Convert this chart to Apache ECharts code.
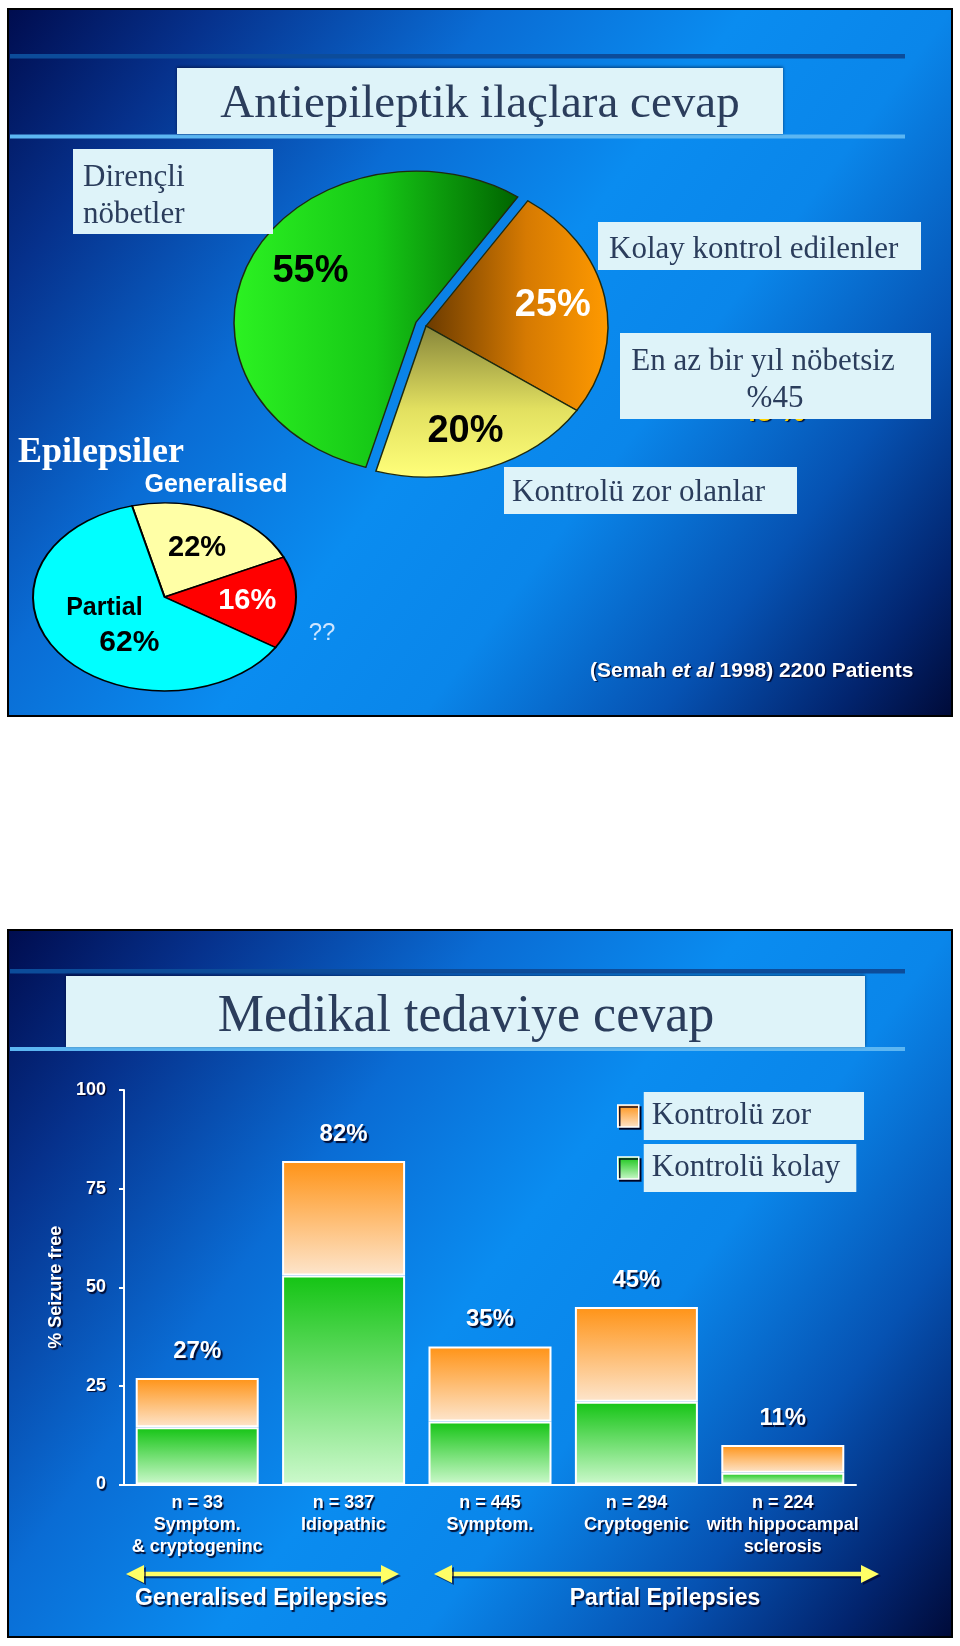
<!DOCTYPE html>
<html><head><meta charset="utf-8">
<style>html,body{margin:0;padding:0;background:#fff;}#c{width:960px;height:1646px;}</style>
<script src="https://cdn.jsdelivr.net/npm/echarts@6/dist/echarts.min.js"></script>
</head><body><div id="c"></div>
<script>
// ---------------- DATA ----------------
const responseNames = ['Dirençli nöbetler', 'Kolay kontrol edilenler', 'Kontrolü zor olanlar'];
const responseValues = [55, 25, 20];
const epilepsyNames = ['Generalised', '??', 'Partial'];
const epilepsyValues = [22, 16, 62];
const categoryN = [33, 337, 445, 294, 224];
const categoryNames = ['Symptom.\n& cryptogeninc', 'Idiopathic', 'Symptom.', 'Cryptogenic', 'with hippocampal\nsclerosis'];
const easyControl = [14.5, 53, 16, 21, 3];   // Kontrolü kolay
const hardControl = [12.5, 29, 19, 24, 7];   // Kontrolü zor
const totalLabels = ['27%', '82%', '35%', '45%', '11%'];
const yTickValues = [0, 25, 50, 75, 100];
const categories = categoryN.map((n, i) => 'n = ' + n + '\n' + categoryNames[i]);

// ---------------- STYLE ----------------
const SANS = '"Liberation Sans", Arial, sans-serif';
const SERIF = '"Liberation Serif", "Times New Roman", serif';
const BOX = '#def3f9';
const INK = '#2b3d5c';
const G = echarts.graphic;
const shadowTxt = {textShadowColor: 'rgba(0,0,30,0.85)', textShadowOffsetX: 1.5, textShadowOffsetY: 1.5, textShadowBlur: 1};

function txt(x, y, text, o) {
  o = o || {};
  const a = o.align || 'center';
  return {type: 'text', x: x, y: y, z: o.z == null ? 20 : o.z, silent: true,
    style: Object.assign({text: text, fill: o.fill || '#fff', fontSize: o.size || 20,
      fontFamily: o.family || SANS, fontWeight: o.weight || 'normal', fontStyle: o.style || 'normal',
      align: a, textAlign: a, verticalAlign: 'middle', textVerticalAlign: 'middle'}, o.extra || {})};
}
function rect(x, y, w, h, fill, o) {
  o = o || {};
  return {type: 'rect', z: o.z == null ? 10 : o.z, silent: true, shape: {x: x, y: y, width: w, height: h},
    style: Object.assign({fill: fill}, o.style || {})};
}
function slideBg() {
  return new G.LinearGradient(0, 0, 1, 1, [
    {offset: 0, color: '#000c4e'}, {offset: 0.14, color: '#06318c'},
    {offset: 0.33, color: '#0a6cd4'}, {offset: 0.5, color: '#0a8cf0'},
    {offset: 0.64, color: '#0a86ea'}, {offset: 0.8, color: '#0652b2'},
    {offset: 0.92, color: '#02246e'}, {offset: 1, color: '#000a38'}]);
}
function arrow(x1, x2, y) {
  const col = '#ffff66', sh = {shadowColor: 'rgba(0,0,40,0.6)', shadowOffsetX: 2, shadowOffsetY: 2};
  return [
    {type: 'line', z: 12, silent: true, shape: {x1: x1 + 12, y1: y, x2: x2 - 12, y2: y}, style: Object.assign({stroke: col, lineWidth: 4.5}, sh)},
    {type: 'polygon', z: 12, silent: true, shape: {points: [[x1, y], [x1 + 18, y - 9], [x1 + 18, y + 9]]}, style: Object.assign({fill: col}, sh)},
    {type: 'polygon', z: 12, silent: true, shape: {points: [[x2, y], [x2 - 18, y - 9], [x2 - 18, y + 9]]}, style: Object.assign({fill: col}, sh)}
  ];
}

// pie drawn as elliptical (tilted) sectors through a custom series
function pieRenderer(values, cfg) {
  const total = values.reduce((a, b) => a + b, 0);
  return function (params, api) {
    const i = params.dataIndex;
    let before = 0;
    for (let k = 0; k < i; k++) before += values[k];
    const v = api.value(0);
    const a0 = cfg.start + before / total * Math.PI * 2;
    const a1 = a0 + v / total * Math.PI * 2;
    const mid = (a0 + a1) / 2;
    const off = cfg.explode[i] || 0;
    const cx = cfg.cx + Math.cos(mid) * off;
    const cy = cfg.cy + Math.sin(mid) * off * cfg.ratio;
    const lr = cfg.r * cfg.labelR[i];
    const lx = cx + Math.cos(mid) * lr + (cfg.labelDx[i] || 0);
    const ly = cy + Math.sin(mid) * lr * cfg.ratio + (cfg.labelDy[i] || 0);
    const lab = cfg.label(i, v);
    return {type: 'group', children: [
      {type: 'sector', x: cx, y: cy, scaleY: cfg.ratio,
        shape: {cx: 0, cy: 0, r0: 0, r: cfg.r, startAngle: a0, endAngle: a1, clockwise: true},
        style: {fill: cfg.fills[i], stroke: cfg.stroke, lineWidth: cfg.lineWidth, strokeNoScale: true}},
      {type: 'text', x: lx, y: ly, style: Object.assign({text: lab.text, fill: cfg.labelColors[i],
        fontFamily: SANS, fontWeight: 'bold', fontSize: cfg.labelSize, align: 'center', textAlign: 'center',
        verticalAlign: 'middle', textVerticalAlign: 'middle'}, lab.rich ? {rich: lab.rich} : {})}
    ]};
  };
}
const deg = Math.PI / 180;
const bigPie = {
  cx: 426, cy: 326, r: 182, ratio: 0.83, start: 106 * deg, explode: [11, 0, 0],
  stroke: '#1e2a10', lineWidth: 1.5,
  fills: [
    new G.LinearGradient(0, 0, 1, 0, [{offset: 0, color: '#2cf222'}, {offset: 0.5, color: '#16c816'}, {offset: 1, color: '#006300'}]),
    new G.LinearGradient(0, 0, 1, 0, [{offset: 0, color: '#6a3a00'}, {offset: 0.55, color: '#d67a02'}, {offset: 1, color: '#ff9a00'}]),
    new G.LinearGradient(0, 0, 0, 1, [{offset: 0, color: '#86853a'}, {offset: 0.55, color: '#e2e060'}, {offset: 1, color: '#ffff7a'}])
  ],
  labelR: [0.64, 0.71, 0.73], labelDx: [0, 0, -6], labelDy: [-10, 0, 2], labelColors: ['#000', '#fff', '#000'], labelSize: 38,
  label: (i, v) => ({text: v + '%'})
};
const smallPie = {
  cx: 164.5, cy: 597, r: 131.5, ratio: 0.715, start: -104.3 * deg, explode: [0, 0, 0],
  stroke: '#000', lineWidth: 2,
  fills: ['#ffffa6', '#ff0000', '#00ffff'],
  labelR: [0.58, 0.63, 0.48], labelDx: [0, 0, -9], labelDy: [0, 0, 2], labelColors: ['#000', '#fff', '#000'], labelSize: 29,
  label: (i, v) => i === 2
    ? {text: '{a|' + epilepsyNames[2] + '}\n{b|' + v + '%}', rich: {
        a: {fontFamily: SANS, fontWeight: 'bold', fontSize: 25, fill: '#000', color: '#000', lineHeight: 35},
        b: {fontFamily: SANS, fontWeight: 'bold', fontSize: 30, fill: '#000', color: '#000', lineHeight: 35, padding: [0, 0, 0, 50]}}}
    : {text: v + '%'}
};

// ---------------- GRAPHICS (slides, boxes, texts) ----------------
const graphics = [
  // slide 1
  {type: 'rect', z: -10, silent: true, shape: {x: 8, y: 9, width: 944, height: 707}, style: {fill: slideBg(), stroke: '#000', lineWidth: 2}},
  rect(10, 54, 895, 4.5, '#0c4c9a', {z: -5}),
  rect(10, 134.5, 895, 4, '#5cb6f2', {z: -5}),
  rect(177, 68, 606, 66, BOX, {z: -4, style: {shadowColor: 'rgba(0,0,20,0.55)', shadowBlur: 3, shadowOffsetY: -1}}),
  txt(480, 105, 'Antiepileptik ilaçlara cevap', {family: SERIF, size: 47, fill: INK}),
  rect(73, 149, 200, 85, BOX),
  txt(83, 178, 'Dirençli', {family: SERIF, size: 31, fill: INK, align: 'left'}),
  txt(83, 215, 'nöbetler', {family: SERIF, size: 31, fill: INK, align: 'left'}),
  rect(598, 222, 323, 48, BOX),
  txt(609, 250, responseNames[1], {family: SERIF, size: 31, fill: INK, align: 'left'}),
  txt(773, 413, '45 %', {size: 28, weight: 'bold', fill: '#ffd400', z: 5, extra: shadowTxt}),
  rect(620, 333, 311, 86, BOX),
  txt(763, 362, 'En az bir yıl nöbetsiz', {family: SERIF, size: 31, fill: INK}),
  txt(775, 399, '%45', {family: SERIF, size: 31, fill: INK}),
  rect(504, 467, 293, 47, BOX),
  txt(512, 493, responseNames[2], {family: SERIF, size: 31, fill: INK, align: 'left'}),
  txt(18, 453, 'Epilepsiler', {family: SERIF, size: 36, weight: 'bold', align: 'left'}),
  txt(216, 485, epilepsyNames[0], {size: 25, weight: 'bold'}),
  txt(322, 633, epilepsyNames[1], {size: 24, fill: '#cfe6ff'}),
  {type: 'text', x: 590, y: 671, z: 20, silent: true, style: Object.assign({
    text: '(Semah {i|et al} 1998) 2200 Patients', fill: '#fff', fontFamily: SANS, fontWeight: 'bold', fontSize: 21,
    align: 'left', textAlign: 'left', verticalAlign: 'middle', textVerticalAlign: 'middle',
    rich: {i: {fontFamily: SANS, fontWeight: 'bold', fontStyle: 'italic', fontSize: 21, fill: '#fff', color: '#fff'}}}, shadowTxt)},
  // slide 2
  {type: 'rect', z: -10, silent: true, shape: {x: 8, y: 930, width: 944, height: 707}, style: {fill: slideBg(), stroke: '#000', lineWidth: 2}},
  rect(10, 969, 895, 4.5, '#0c4c9a', {z: -5}),
  rect(10, 1047, 895, 4, '#5cb6f2', {z: -5}),
  rect(66, 976, 799, 71, BOX, {z: -4, style: {shadowColor: 'rgba(0,0,20,0.55)', shadowBlur: 3, shadowOffsetY: -1}}),
  txt(466, 1017, 'Medikal tedaviye cevap', {family: SERIF, size: 52, fill: INK}),
  ...arrow(126, 399, 1574),
  ...arrow(434, 879, 1574),
  txt(261, 1599, 'Generalised Epilepsies', {size: 23, weight: 'bold', extra: shadowTxt}),
  txt(665, 1599, 'Partial Epilepsies', {size: 23, weight: 'bold', extra: shadowTxt})
];

const labelShadow = {textShadowColor: 'rgba(0,0,30,0.9)', textShadowOffsetX: 1.5, textShadowOffsetY: 1.5, textShadowBlur: 1};

const option = {
  animation: false,
  graphic: {elements: graphics},
  grid: {left: 124, right: 104, top: 1090, bottom: 161.5, containLabel: false},
  legend: {
    orient: 'vertical', left: 617, top: 1092, padding: 0, itemWidth: 21, itemHeight: 22, itemGap: 4,
    icon: 'rect', selectedMode: false,
    itemStyle: {borderColor: '#ffffff', borderWidth: 1.5, shadowColor: 'rgba(0,0,30,0.9)', shadowOffsetX: 2, shadowOffsetY: 2},
    textStyle: {fontFamily: SERIF, color: INK, backgroundColor: BOX, fontSize: 31},
    data: [
      {name: 'Kontrolü zor', textStyle: {fontSize: 31, lineHeight: 34, padding: [7, 53, 7, 8]}},
      {name: 'Kontrolü kolay', textStyle: {fontSize: 31, lineHeight: 34, padding: [7, 16, 7, 8]}}
    ]
  },
  xAxis: {
    type: 'category', data: categories,
    axisLine: {lineStyle: {color: '#fff', width: 2}},
    axisTick: {show: false},
    axisLabel: Object.assign({color: '#fff', fontFamily: SANS, fontWeight: 'bold', fontSize: 18, lineHeight: 22, margin: 8, interval: 0}, labelShadow)
  },
  yAxis: {
    type: 'value', min: yTickValues[0], max: yTickValues[yTickValues.length - 1], interval: yTickValues[1] - yTickValues[0],
    name: '% Seizure free', nameLocation: 'middle', nameRotate: 90, nameGap: 56,
    nameTextStyle: Object.assign({color: '#fff', fontFamily: SANS, fontWeight: 'bold', fontSize: 18}, labelShadow),
    axisLine: {show: true, lineStyle: {color: '#fff', width: 2}},
    axisTick: {show: true, length: 5, lineStyle: {color: '#fff', width: 2}},
    splitLine: {show: false},
    axisLabel: Object.assign({color: '#fff', fontFamily: SANS, fontWeight: 'bold', fontSize: 18, margin: 18}, labelShadow)
  },
  series: [
    {type: 'custom', name: 'responses', coordinateSystem: 'none', data: responseValues, renderItem: pieRenderer(responseValues, bigPie), z: 3},
    {type: 'custom', name: 'epilepsies', coordinateSystem: 'none', data: epilepsyValues, renderItem: pieRenderer(epilepsyValues, smallPie), z: 3},
    {type: 'bar', name: 'Kontrolü kolay', stack: 'sf', data: easyControl, barWidth: 123,
      itemStyle: {color: new G.LinearGradient(0, 0, 0, 1, [{offset: 0, color: '#14c414'}, {offset: 1, color: '#ccf9cc'}]), borderColor: '#fff', borderWidth: 2}},
    {type: 'bar', name: 'Kontrolü zor', stack: 'sf', data: hardControl, barWidth: 123,
      itemStyle: {color: new G.LinearGradient(0, 0, 0, 1, [{offset: 0, color: '#ff9316'}, {offset: 1, color: '#fde5cc'}]), borderColor: '#fff', borderWidth: 2},
      label: Object.assign({show: true, position: 'top', distance: 15, formatter: p => totalLabels[p.dataIndex],
        color: '#fff', fontFamily: SANS, fontWeight: 'bold', fontSize: 24}, {textShadowColor: 'rgba(0,0,30,0.9)', textShadowOffsetX: 2, textShadowOffsetY: 2, textShadowBlur: 1})}
  ]
};
const chart = echarts.init(document.getElementById('c'), null, {renderer: 'canvas', width: 960, height: 1646});
chart.setOption(option);
</script></body></html>
